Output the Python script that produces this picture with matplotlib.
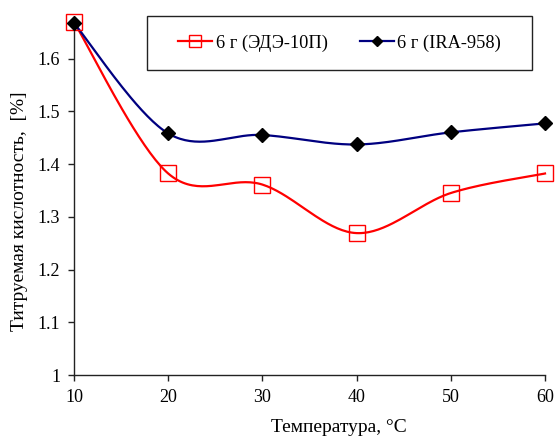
import matplotlib
matplotlib.use("Agg")
import matplotlib.pyplot as plt
from matplotlib.patches import Rectangle
import numpy as np

plt.rcParams['font.family'] = ['Liberation Serif', 'DejaVu Serif']

# данные
temperature = [10, 20, 30, 40, 50, 60]
acid_ede = [1.669, 1.382, 1.361, 1.269, 1.345, 1.382]
acid_ira = [1.667, 1.458, 1.455, 1.437, 1.460, 1.477]
label_ede = "6 г (ЭДЭ-10П)"
label_ira = "6 г (IRA-958)"
y_ticks = [1, 1.1, 1.2, 1.3, 1.4, 1.5, 1.6]
y_tick_labels = ["1", "1.1", "1.2", "1.3", "1.4", "1.5", "1.6"]


def smooth_curve(x, y, n=40):
    """Сглаженная линия как в Excel: кубические Безье через точки (Catmull-Rom)."""
    p = np.column_stack([x, y]).astype(float)
    pts = []
    for i in range(len(p) - 1):
        p0 = p[i - 1] if i > 0 else p[i]
        p1, p2 = p[i], p[i + 1]
        p3 = p[i + 2] if i + 2 < len(p) else p[i + 1]
        c1 = p1 + (p2 - p0) / 6.0
        c2 = p2 - (p3 - p1) / 6.0
        t = np.linspace(0, 1, n)[:, None]
        seg = ((1 - t) ** 3) * p1 + 3 * ((1 - t) ** 2) * t * c1 \
            + 3 * (1 - t) * t ** 2 * c2 + t ** 3 * p2
        pts.append(seg if i == 0 else seg[1:])
    pts = np.vstack(pts)
    return pts[:, 0], pts[:, 1]


fig = plt.figure(figsize=(5.55, 4.37), dpi=100)
W, H = 555, 437
ax = fig.add_axes([74 / W, 1 - 375 / H, (545 - 74) / W, (375 - 20) / H])

red = '#FF0000'
navy = '#000080'

sx, sy = smooth_curve(temperature, acid_ede)
ax.plot(sx, sy, color=red, lw=1.6, zorder=2, clip_on=False)
ax.plot(temperature, acid_ede, ls='none', marker='s', ms=11.5, mfc='none',
        mec=red, mew=1.0, zorder=3, clip_on=False)

sx, sy = smooth_curve(temperature, acid_ira)
ax.plot(sx, sy, color=navy, lw=1.6, zorder=2, clip_on=False)
ax.plot(temperature, acid_ira, ls='none', marker='D', ms=7.5, mfc='black',
        mec='black', zorder=4, clip_on=False)

# легенда: рамка отдельно, записи по центру рамки
box_l, box_r, box_t, box_b = 147, 532, 16, 70
fig.patches.append(Rectangle((box_l / W, 1 - box_b / H), (box_r - box_l) / W,
                             (box_b - box_t) / H, transform=fig.transFigure,
                             fill=False, ec='#222222', lw=1.0))
h1, = ax.plot([], [], color=red, lw=1.6, marker='s', ms=8, mfc='none', mec=red, mew=1.0)
h2, = ax.plot([], [], color=navy, lw=1.6, marker='D', ms=5.5, mfc='black', mec='black')
fig.legend([h1, h2], [label_ede, label_ira], ncol=2, loc='center',
           bbox_to_anchor=((box_l + box_r) / 2 / W, 1 - (box_t + box_b) / 2 / H),
           fontsize=13.2, frameon=False, handlelength=1.85, handletextpad=0.2,
           columnspacing=1.75, borderpad=0, borderaxespad=0)

ax.set_xlim(10, 60)
ax.set_ylim(1, 1.673)
ax.set_xticks(temperature)
ax.set_yticks(y_ticks)
ax.set_yticklabels(y_tick_labels)

for s in ['top', 'right']:
    ax.spines[s].set_visible(False)
for s in ['left', 'bottom']:
    ax.spines[s].set_color('#222222')
    ax.spines[s].set_linewidth(1.0)

ax.tick_params(axis='both', direction='out', length=4, width=1.0,
               color='#222222', labelsize=13, pad=6)

fig.text(339 / W, 1 - 428 / H, "Температура, °C", ha='center', va='center', fontsize=14)
fig.text(20 / W, 1 - 211 / H, "Титруемая кислотность,  [%]", ha='center', va='center',
         rotation=90, fontsize=14)

fig.savefig("out.png", dpi=100)
